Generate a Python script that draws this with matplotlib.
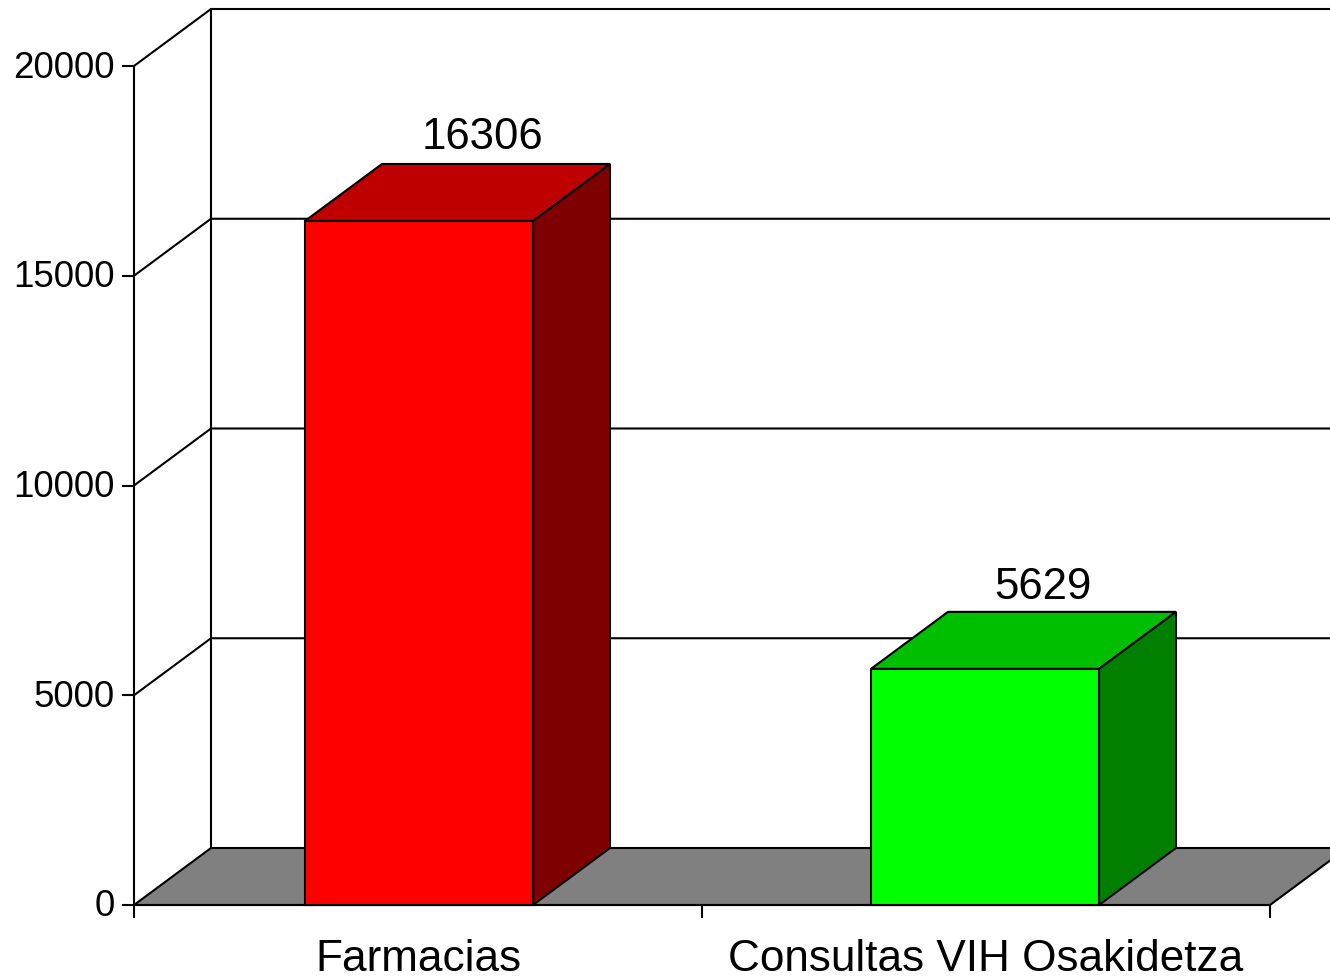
import numpy as np
import matplotlib
matplotlib.use('Agg')
import matplotlib.pyplot as plt
from matplotlib.patches import Polygon
from matplotlib.transforms import ScaledTranslation

# Data
categories = ['Farmacias', 'Consultas VIH Osakidetza']
values = [16306, 5629]
y_ticks = [0, 5000, 10000, 15000, 20000]
front_colors = ['#ff0000', '#00ff00']
top_colors = ['#bf0000', '#00bf00']
side_colors = ['#7f0000', '#007f00']

plt.rcParams['font.family'] = ['Liberation Sans', 'DejaVu Sans']

W, H = 1330, 977
cat_px = 568  # pixels per category
val_px = 839 / 20000  # pixels per unit
x0_px, y0_px = 134, 905  # where x=-0.5, y=0 sits

fig = plt.figure(figsize=(W / 100, H / 100), dpi=100)
ax = fig.add_axes([0, 0, 1, 1])
ax.set_xlim(-0.5 - x0_px / cat_px, -0.5 + (W - x0_px) / cat_px)
ax.set_ylim(-(H - y0_px) / val_px, y0_px / val_px)
ax.patch.set_visible(False)

# depth of the fake 3d box
dx = 77 / cat_px
dy = 57 / val_px
bar_w = 228 / cat_px
bar_shift = [1 / cat_px, -1 / cat_px]
label_dx = [64 / cat_px, 57 / cat_px]
label_dy = [15 / val_px, 13 / val_px]
x_left, x_right = -0.5, 1.5
y_top = 20000
lw = 1.5

# Floor
ax.add_patch(Polygon([(x_left, 0), (x_right, 0), (x_right + dx, dy), (x_left + dx, dy)],
                     closed=True, fc='#808080', ec='black', lw=lw, zorder=1))

# Walls and grid
for v in y_ticks[1:]:
    ax.plot([x_left, x_left + dx, x_right + dx], [v, v + dy, v + dy], color='black', lw=lw, zorder=1)
ax.plot([x_left + dx, x_left + dx], [dy, y_top + dy], color='black', lw=lw, zorder=1)

# Bars
for i, (v, fc, tc, sc) in enumerate(zip(values, front_colors, top_colors, side_colors)):
    l, r = i + bar_shift[i] - bar_w / 2, i + bar_shift[i] + bar_w / 2
    ax.add_patch(Polygon([(l, 0), (r, 0), (r, v), (l, v)], closed=True, fc=fc, ec='black', lw=lw, zorder=3))
    ax.add_patch(Polygon([(l, v), (r, v), (r + dx, v + dy), (l + dx, v + dy)], closed=True, fc=tc, ec='black', lw=lw, zorder=3))
    ax.add_patch(Polygon([(r, 0), (r + dx, dy), (r + dx, v + dy), (r, v)], closed=True, fc=sc, ec='black', lw=lw, zorder=3))
    ax.text(i + label_dx[i], v + dy + label_dy[i], str(v), ha='center', va='baseline', fontsize=31.5, zorder=4)

# Axes
for s in ['top', 'right']:
    ax.spines[s].set_visible(False)
ax.spines['left'].set_position(('data', x_left))
ax.spines['left'].set_bounds(0, y_top)
ax.spines['bottom'].set_position(('data', 0))
ax.spines['bottom'].set_bounds(x_left, x_right)
for s in ['left', 'bottom']:
    ax.spines[s].set_linewidth(lw)
    ax.spines[s].set_zorder(2)

ax.set_yticks(y_ticks)
ax.tick_params(axis='y', length=9, width=lw, pad=5, labelsize=26.5)
# nudge y labels 2 px up
nudge = ScaledTranslation(0, 2 / 100, fig.dpi_scale_trans)
for t in ax.get_yticklabels():
    t.set_transform(t.get_transform() + nudge)
ax.set_xticks([-0.5, 0.5, 1.5])
ax.set_xticklabels([])
ax.set_xticks([0, 1], minor=True)
ax.set_xticklabels(categories, minor=True)
ax.tick_params(axis='x', which='major', length=9, width=lw)
ax.tick_params(axis='x', which='minor', length=0, pad=24.5, labelsize=31.8)

fig.savefig('out.png', dpi=100)
